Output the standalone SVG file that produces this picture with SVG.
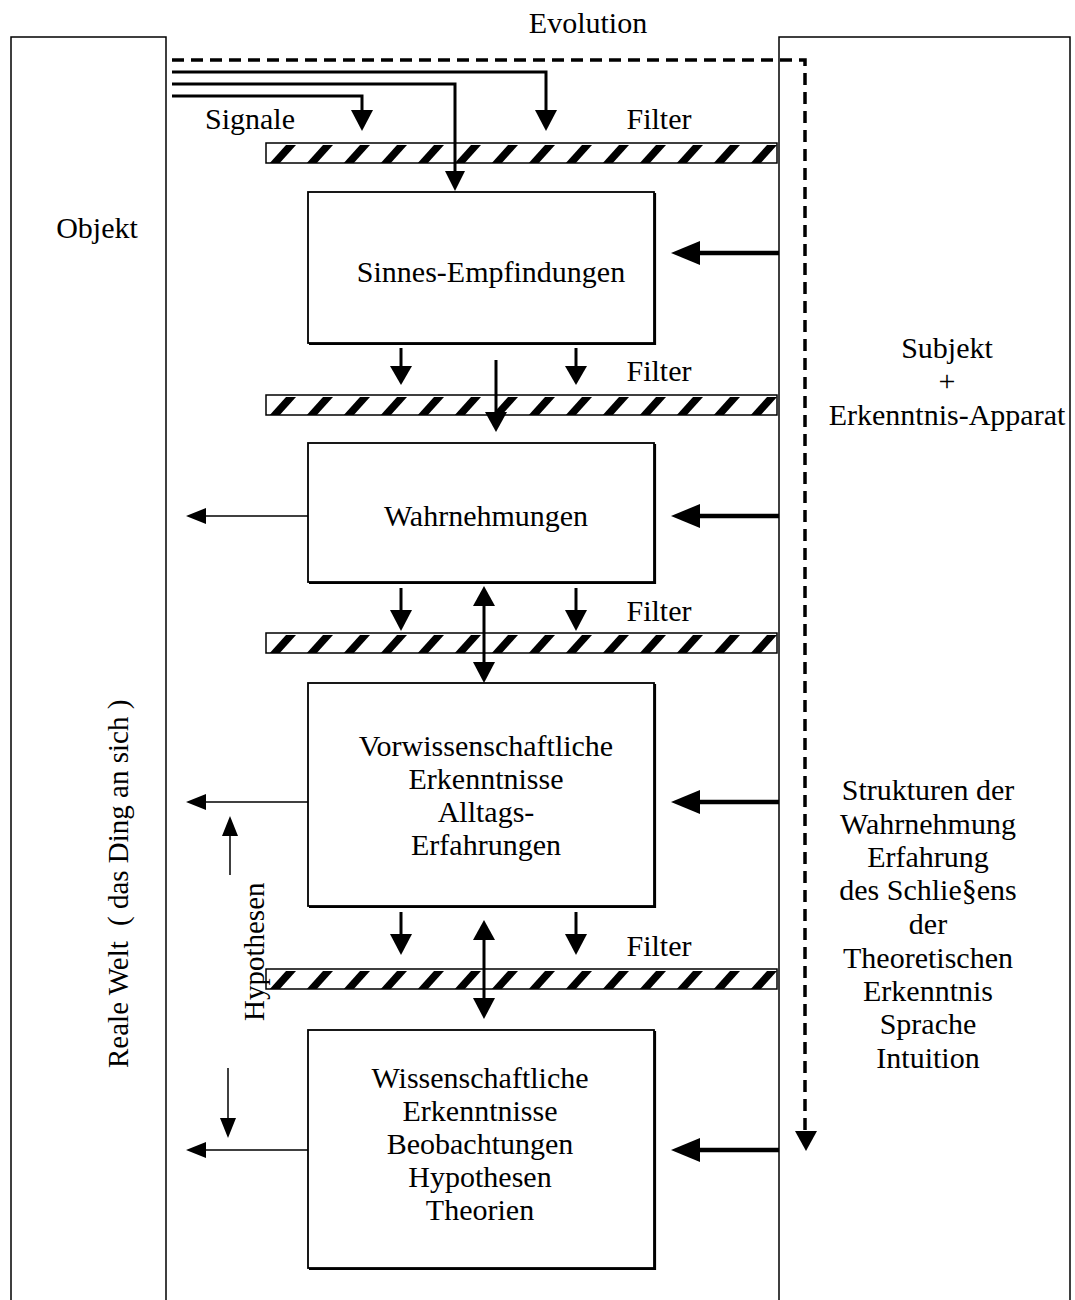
<svg xmlns="http://www.w3.org/2000/svg" xmlns:xlink="http://www.w3.org/1999/xlink" width="1075" height="1300" viewBox="0 0 1075 1300">
  <style>
    text { font-family: "Liberation Serif", "Times New Roman", serif; font-size: 30px; fill: #000; }
    .c { text-anchor: middle; }
    .v { font-size: 29px; }
    .panel { fill: none; stroke: #000; stroke-width: 1.5; }
    .box { fill: #fff; stroke: #000; stroke-width: 1.8; }
    .shadow { fill: none; stroke: #000; stroke-width: 2.2; }
    .thick { stroke: #000; stroke-width: 3; fill: none; }
    .heavy { stroke: #000; stroke-width: 4.5; fill: none; }
    .thin { stroke: #000; stroke-width: 1.5; fill: none; }
    .dash { stroke: #000; stroke-width: 3.5; fill: none; stroke-dasharray: 12 7; }
    .head { fill: #000; }
  </style>
  <defs>
    <pattern id="hatch" patternUnits="userSpaceOnUse" width="37" height="22">
      <polygon points="2,22 12,22 30,2 20,2" fill="#000"/>
    </pattern>
    <g id="filterbar">
      <rect x="0" y="0" width="511" height="20" fill="#fff"/>
      <rect x="0" y="0" width="511" height="20" fill="url(#hatch)"/>
      <rect x="0" y="0" width="511" height="20" fill="none" stroke="#000" stroke-width="1.5"/>
    </g>
  </defs>

  <!-- Outer panels: object world (left) and subject (right) -->
  <g id="object-panel">
    <path class="panel" d="M11,1300 V37 H166 V1300"/>
    <text x="97" y="238" class="c">Objekt</text>
    <text class="v" transform="translate(128,1068) rotate(-90)">Reale Welt</text>
    <text class="v" transform="translate(128,926) rotate(-90)">( das Ding an sich )</text>
  </g>
  <g id="subject-panel">
    <path class="panel" d="M779,1300 V37 H1070 V1300"/>
    <text x="947" y="358" class="c">Subjekt</text>
    <text x="947" y="391" class="c">+</text>
    <text x="947" y="425" class="c">Erkenntnis-Apparat</text>
    <text x="928" y="800" class="c">Strukturen der</text>
    <text x="928" y="834" class="c">Wahrnehmung</text>
    <text x="928" y="867" class="c">Erfahrung</text>
    <text x="928" y="900" class="c">des Schlie§ens</text>
    <text x="928" y="934" class="c">der</text>
    <text x="928" y="968" class="c">Theoretischen</text>
    <text x="928" y="1001" class="c">Erkenntnis</text>
    <text x="928" y="1034" class="c">Sprache</text>
    <text x="928" y="1068" class="c">Intuition</text>
  </g>

  <text x="588" y="33" class="c">Evolution</text>
  <text x="250" y="129" class="c">Signale</text>

  <!-- Filters -->
  <g id="filter-1">
    <use xlink:href="#filterbar" x="266" y="143"/>
    <text x="659" y="129" class="c">Filter</text>
  </g>
  <g id="filter-2">
    <use xlink:href="#filterbar" x="266" y="395"/>
    <text x="659" y="381" class="c">Filter</text>
  </g>
  <g id="filter-3">
    <use xlink:href="#filterbar" x="266" y="633"/>
    <text x="659" y="621" class="c">Filter</text>
  </g>
  <g id="filter-4">
    <use xlink:href="#filterbar" x="266" y="969"/>
    <text x="659" y="956" class="c">Filter</text>
  </g>

  <!-- Stages of knowledge -->
  <g id="sinnes-empfindungen">
    <rect class="box" x="308" y="192" width="346" height="151"/>
    <path class="shadow" d="M309,344 H655 V193"/>
    <text x="491" y="282" class="c">Sinnes-Empfindungen</text>
  </g>
  <g id="wahrnehmungen">
    <rect class="box" x="308" y="443" width="346" height="139"/>
    <path class="shadow" d="M309,583 H655 V444"/>
    <text x="486" y="526" class="c">Wahrnehmungen</text>
  </g>
  <g id="vorwissenschaftliche">
    <rect class="box" x="308" y="683" width="346" height="223"/>
    <path class="shadow" d="M309,907 H655 V684"/>
    <text x="486" y="756" class="c">Vorwissenschaftliche</text>
    <text x="486" y="789" class="c">Erkenntnisse</text>
    <text x="486" y="822" class="c">Alltags-</text>
    <text x="486" y="855" class="c">Erfahrungen</text>
  </g>
  <g id="wissenschaftliche">
    <rect class="box" x="308" y="1030" width="346" height="238"/>
    <path class="shadow" d="M309,1269 H655 V1031"/>
    <text x="480" y="1088" class="c">Wissenschaftliche</text>
    <text x="480" y="1121" class="c">Erkenntnisse</text>
    <text x="480" y="1154" class="c">Beobachtungen</text>
    <text x="480" y="1187" class="c">Hypothesen</text>
    <text x="480" y="1220" class="c">Theorien</text>
  </g>
  <text class="v" transform="translate(264,1021) rotate(-90)" font-size="28">Hypothesen</text>

  <!-- Connectors -->
  <g id="connectors">
    <!-- evolution feedback -->
    <path class="dash" d="M172,60 H805 V1131"/>
    <polygon class="head" points="795,1131 817,1131 806,1151"/>

    <!-- incoming signals -->
    <path class="thick" d="M172,72 H546 V112"/>
    <polygon class="head" points="535,110 557,110 546,131"/>
    <path class="thick" d="M172,84 H455 V172"/>
    <polygon class="head" points="445,171 465,171 455,191"/>
    <path class="thick" d="M172,96 H362 V112"/>
    <polygon class="head" points="351,110 373,110 362,131"/>

    <!-- subject apparatus into each stage -->
    <path class="heavy" d="M779,253 H698"/>
    <polygon class="head" points="700,241 700,265 671,253"/>
    <path class="heavy" d="M779,516 H698"/>
    <polygon class="head" points="700,504 700,528 671,516"/>
    <path class="heavy" d="M779,802 H698"/>
    <polygon class="head" points="700,790 700,814 671,802"/>
    <path class="heavy" d="M779,1150 H698"/>
    <polygon class="head" points="700,1138 700,1162 671,1150"/>

    <!-- stage 1 to stage 2 -->
    <path class="thick" d="M401,348 V368"/>
    <polygon class="head" points="390,366 412,366 401,385"/>
    <path class="thick" d="M576,348 V368"/>
    <polygon class="head" points="565,366 587,366 576,385"/>
    <path class="thick" d="M496,360 V414"/>
    <polygon class="head" points="485,412 507,412 496,432"/>

    <!-- stage 2 to stage 3 -->
    <path class="thick" d="M401,588 V612"/>
    <polygon class="head" points="390,610 412,610 401,631"/>
    <path class="thick" d="M576,588 V612"/>
    <polygon class="head" points="565,610 587,610 576,631"/>
    <path class="thick" d="M484,604 V664"/>
    <polygon class="head" points="473,606 495,606 484,586"/>
    <polygon class="head" points="473,662 495,662 484,683"/>

    <!-- stage 3 to stage 4 -->
    <path class="thick" d="M401,912 V936"/>
    <polygon class="head" points="390,934 412,934 401,955"/>
    <path class="thick" d="M576,912 V936"/>
    <polygon class="head" points="565,934 587,934 576,955"/>
    <path class="thick" d="M484,938 V1000"/>
    <polygon class="head" points="473,940 495,940 484,920"/>
    <polygon class="head" points="473,998 495,998 484,1019"/>

    <!-- stages back to the real world -->
    <path class="thin" d="M308,516 H204"/>
    <polygon class="head" points="206,508 206,524 186,516"/>
    <path class="thin" d="M308,802 H204"/>
    <polygon class="head" points="206,794 206,810 186,802"/>
    <path class="thin" d="M308,1150 H204"/>
    <polygon class="head" points="206,1142 206,1158 186,1150"/>

    <!-- hypotheses up and down -->
    <path class="thin" d="M230,875 V834"/>
    <polygon class="head" points="222,836 238,836 230,816"/>
    <path class="thin" d="M228,1068 V1120"/>
    <polygon class="head" points="220,1118 236,1118 228,1138"/>
  </g>
</svg>
